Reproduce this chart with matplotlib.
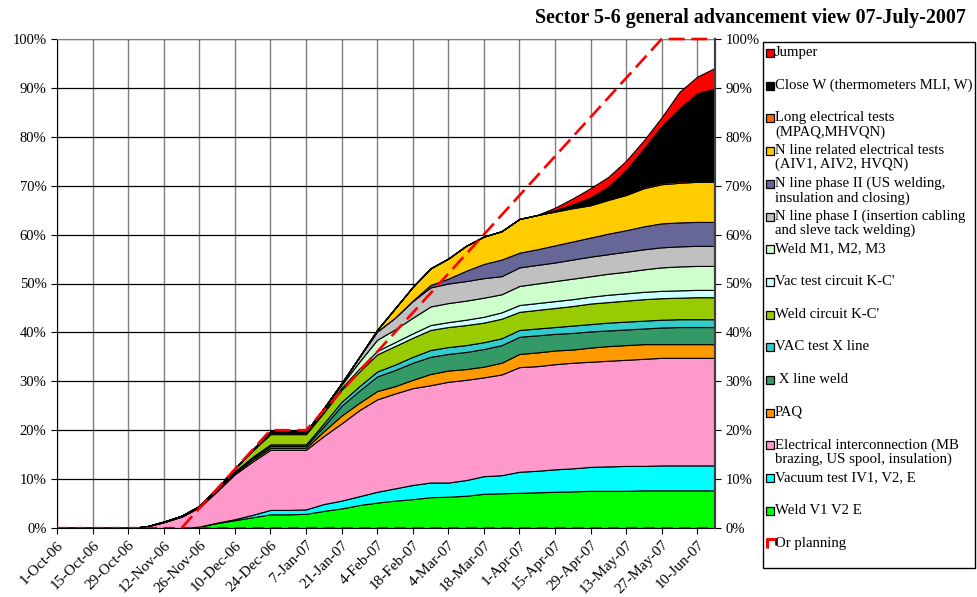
import numpy as np
import pandas as pd
import matplotlib
matplotlib.use("Agg")
import matplotlib.pyplot as plt
from matplotlib.patches import Rectangle
from matplotlib.lines import Line2D

plt.rcParams['font.family'] = ['Liberation Serif', 'DejaVu Serif']

# weekly data points, 1-Oct-06 .. 17-Jun-07
weeks = pd.date_range("2006-10-01", periods=38, freq="7D")

# layer values in % (bottom to top of the stack)
weld_v1v2e = [0, 0, 0, 0, 0, 0, 0, 0, 0.3, 1.0, 1.6, 2.2, 2.8, 2.8, 2.9, 3.5, 4.0, 4.7, 5.2, 5.6,
              5.9, 6.3, 6.4, 6.6, 7.0, 7.1, 7.2, 7.3, 7.4, 7.5, 7.6, 7.6, 7.6, 7.7, 7.7, 7.7, 7.7, 7.7]
vac_test_iv1 = [0, 0, 0, 0, 0, 0, 0, 0, 0, 0.1, 0.2, 0.5, 0.9, 0.9, 0.9, 1.4, 1.6, 1.8, 2.2, 2.5,
                2.9, 3.0, 2.9, 3.2, 3.6, 3.7, 4.3, 4.4, 4.6, 4.7, 4.9, 5.0, 5.1, 5.0, 5.1, 5.1, 5.1, 5.1]
elec_interconn = [0, 0, 0, 0, 0, 0.3, 1.2, 2.3, 3.9, 6.4, 9.2, 10.9, 12.3, 12.3, 12.2, 13.9, 15.8, 17.6, 18.9, 19.4,
                  19.8, 19.9, 20.6, 20.5, 20.2, 20.6, 21.4, 21.4, 21.5, 21.6, 21.5, 21.6, 21.7, 21.9, 22.0, 22.0, 22.0, 22.0]
paq = [0, 0, 0, 0, 0, 0, 0, 0.05, 0.1, 0.15, 0.3, 0.4, 0.4, 0.4, 0.4, 1.0, 1.6, 1.5, 1.7, 1.5,
       1.7, 2.3, 2.3, 2.2, 2.2, 2.4, 2.7, 2.8, 2.8, 2.7, 2.9, 3.0, 3.0, 3.0, 2.8, 2.8, 2.8, 2.8]
x_line_weld = [0, 0, 0, 0, 0, 0, 0, 0.05, 0.05, 0.1, 0.2, 0.35, 0.4, 0.4, 0.4, 1.0, 2.0, 2.5, 3.0, 3.3,
               3.5, 3.5, 3.4, 3.5, 3.6, 3.6, 3.5, 3.5, 3.4, 3.4, 3.3, 3.2, 3.2, 3.2, 3.4, 3.5, 3.5, 3.5]
vac_x_line = [0, 0, 0, 0, 0, 0, 0, 0, 0.05, 0.1, 0.1, 0.2, 0.3, 0.3, 0.3, 0.6, 0.8, 0.9, 1.0, 1.1,
              1.2, 1.4, 1.4, 1.4, 1.4, 1.4, 1.4, 1.4, 1.4, 1.5, 1.5, 1.6, 1.6, 1.6, 1.6, 1.6, 1.6, 1.6]
weld_kc = [0, 0, 0, 0, 0, 0, 0.1, 0.1, 0.1, 0.25, 0.5, 1.3, 2.1, 2.1, 2.1, 2.2, 2.5, 3.0, 3.5, 3.8,
           3.9, 4.1, 4.1, 4.1, 4.0, 4.0, 3.7, 3.8, 3.9, 4.0, 4.2, 4.2, 4.3, 4.4, 4.4, 4.4, 4.5, 4.5]
vac_kc = [0, 0, 0, 0, 0, 0, 0, 0, 0, 0, 0.05, 0.05, 0.1, 0.1, 0.1, 0.3, 0.4, 0.6, 0.7, 0.8,
          0.9, 1.0, 1.0, 1.1, 1.2, 1.3, 1.4, 1.4, 1.4, 1.4, 1.4, 1.5, 1.5, 1.5, 1.5, 1.5, 1.5, 1.5]
weld_m = [0, 0, 0, 0, 0, 0, 0, 0, 0, 0, 0.05, 0.1, 0.2, 0.2, 0.2, 0.4, 0.6, 1.4, 2.3, 2.6,
          3.2, 3.8, 3.9, 3.9, 3.9, 3.7, 3.9, 4.0, 4.1, 4.2, 4.2, 4.3, 4.4, 4.6, 4.8, 4.9, 4.9, 4.9]
n_phase1 = [0, 0, 0, 0, 0, 0, 0, 0, 0, 0, 0, 0, 0.2, 0.2, 0.2, 0.2, 0.3, 1.0, 1.7, 2.4,
            3.4, 3.9, 4.0, 4.0, 4.0, 3.7, 3.8, 3.8, 3.8, 3.9, 4.0, 4.0, 4.1, 4.1, 4.1, 4.1, 4.1, 4.1]
n_phase2 = [0, 0, 0, 0, 0, 0, 0, 0, 0, 0, 0, 0, 0, 0, 0, 0, 0, 0, 0, 0,
            0.1, 0.5, 1.0, 2.1, 2.9, 3.4, 3.0, 3.2, 3.5, 3.7, 3.9, 4.2, 4.4, 4.7, 4.9, 4.9, 4.9, 4.9]
n_elec_tests = [0, 0, 0, 0, 0, 0, 0, 0, 0, 0, 0, 0, 0, 0, 0, 0, 0, 0, 0.3, 1.9,
                2.8, 3.4, 4.1, 5.1, 5.6, 5.8, 6.9, 7.0, 6.9, 6.8, 6.6, 6.9, 7.2, 7.8, 8.0, 8.1, 8.2, 8.2]
long_elec = [0] * 28 + [0.1, 0.2, 0.2, 0.2, 0.2, 0.3, 0.3, 0.3, 0.2, 0.2]
close_w = [0] * 28 + [0.2, 0.6, 1.4, 2.5, 4.9, 7.8, 11.6, 14.9, 17.9, 18.9]
jumper = [0] * 28 + [0.5, 1.2, 1.9, 2.0, 1.9, 1.7, 1.8, 3.4, 3.4, 4.2]

planning = [np.nan] * 7 + [0, 4, 8, 12, 16, 20, 20, 20, 24, 28, 32, 36, 40, 44, 48, 52, 56, 60,
                           64, 68, 72, 76, 80, 84, 88, 92, 96, 100, 100, 100, 100]

layers = [weld_v1v2e, vac_test_iv1, elec_interconn, paq, x_line_weld, vac_x_line, weld_kc,
          vac_kc, weld_m, n_phase1, n_phase2, n_elec_tests, long_elec, close_w, jumper]
names = ["Weld V1 V2 E", "Vacuum test IV1, V2, E",
         "Electrical interconnection (MB\nbrazing, US spool, insulation)", "PAQ", " X line weld",
         "VAC test X line", "Weld circuit K-C'", "Vac test circuit K-C'", "Weld M1, M2, M3",
         "N line phase I (insertion cabling\nand sleve tack welding)",
         "N line phase II (US welding,\ninsulation and closing)",
         "N line related electrical tests\n(AIV1, AIV2, HVQN)",
         "Long electrical tests\n(MPAQ,MHVQN)", "Close W (thermometers MLI, W)", "Jumper"]
colors = ["#00FF00", "#00FFFF", "#FF99CC", "#FF9900", "#339966", "#33CCCC", "#99CC00",
          "#CCFFFF", "#CCFFCC", "#C0C0C0", "#666699", "#FFCC00", "#FF6600", "#000000", "#FF0000"]

W, H = 977, 597
fig = plt.figure(figsize=(W / 100, H / 100), dpi=100)
ax = fig.add_axes([57 / W, 69 / H, 658 / W, 489 / H])

ax.stackplot(weeks, *layers, colors=colors, edgecolor="black", linewidth=0.8, zorder=2)
ax.plot(weeks, planning, color="red", lw=1.9, dashes=(6, 2.6), clip_on=False, zorder=6)
ax.axhline(0, color="#cc0000", lw=1.6, dashes=(5, 3), zorder=5)

ax.set_xlim(weeks[0], weeks[-1])
ax.set_ylim(0, 100)
ticks = pd.date_range("2006-10-01", "2007-06-10", freq="14D")
ax.set_xticks(ticks)
ax.set_xticklabels([f"{d.day}-{d:%b-%y}" for d in ticks], rotation=45, ha="right",
                   rotation_mode="anchor")
yt = np.arange(0, 101, 10)
ax.set_yticks(yt)
ax.set_yticklabels([f"{v}%" for v in yt])
ax.set_axisbelow(True)
ax.grid(axis="x", color="#7f7f7f", lw=1.0)
ax.grid(axis="y", color="black", lw=0.9)
ax.tick_params(direction="out", length=4, labelsize=10.5, colors="black")
ax.tick_params(axis="x", labelsize=11)
ax.spines["top"].set_color("#7f7f7f")
ax.spines["right"].set_visible(False)

ax2 = ax.twinx()
ax2.set_ylim(0, 100)
ax2.set_yticks(yt)
ax2.set_yticklabels([f"{v}%" for v in yt])
ax2.tick_params(direction="out", length=4, labelsize=10.5)
ax2.spines["right"].set_color("#404040")
ax2.spines["right"].set_linewidth(1.6)
for s in ["top", "left", "bottom"]:
    ax2.spines[s].set_visible(False)

fig.text(966 / W, 1 - 18 / H, "Sector 5-6 general advancement view 07-July-2007",
         ha="right", va="center", fontsize=14.4, fontweight="bold")

# legend box drawn by hand so every entry sits in an even slot
def fx(x):
    return x / W

def fy(y):
    return 1 - y / H

fig.patches.append(Rectangle((fx(763), fy(568)), fx(975) - fx(763), fy(42) - fy(568),
                             transform=fig.transFigure, fill=False, edgecolor="black", lw=1))
step = 32.7
for i in range(len(layers)):
    j = len(layers) - 1 - i
    yc = 53 + i * step
    fig.patches.append(Rectangle((fx(766), fy(yc + 4)), 8 / W, 8 / H, transform=fig.transFigure,
                                 facecolor=colors[j], edgecolor="black", lw=0.9))
    fig.text(fx(775), fy(yc - 7), names[j], ha="left", va="top", fontsize=10.6, linespacing=1.08)
yc = 53 + 15 * step
fig.lines.append(Line2D([fx(766.5), fx(766.5), fx(775.5), fx(775.5)],
                        [fy(yc + 4), fy(yc - 5), fy(yc - 5), fy(yc + 1)],
                        transform=fig.transFigure, color="red", lw=2.2, solid_capstyle="butt"))
fig.text(fx(775), fy(yc - 7), "Or planning", ha="left", va="top", fontsize=10.6)

fig.savefig("out.png", dpi=100)
